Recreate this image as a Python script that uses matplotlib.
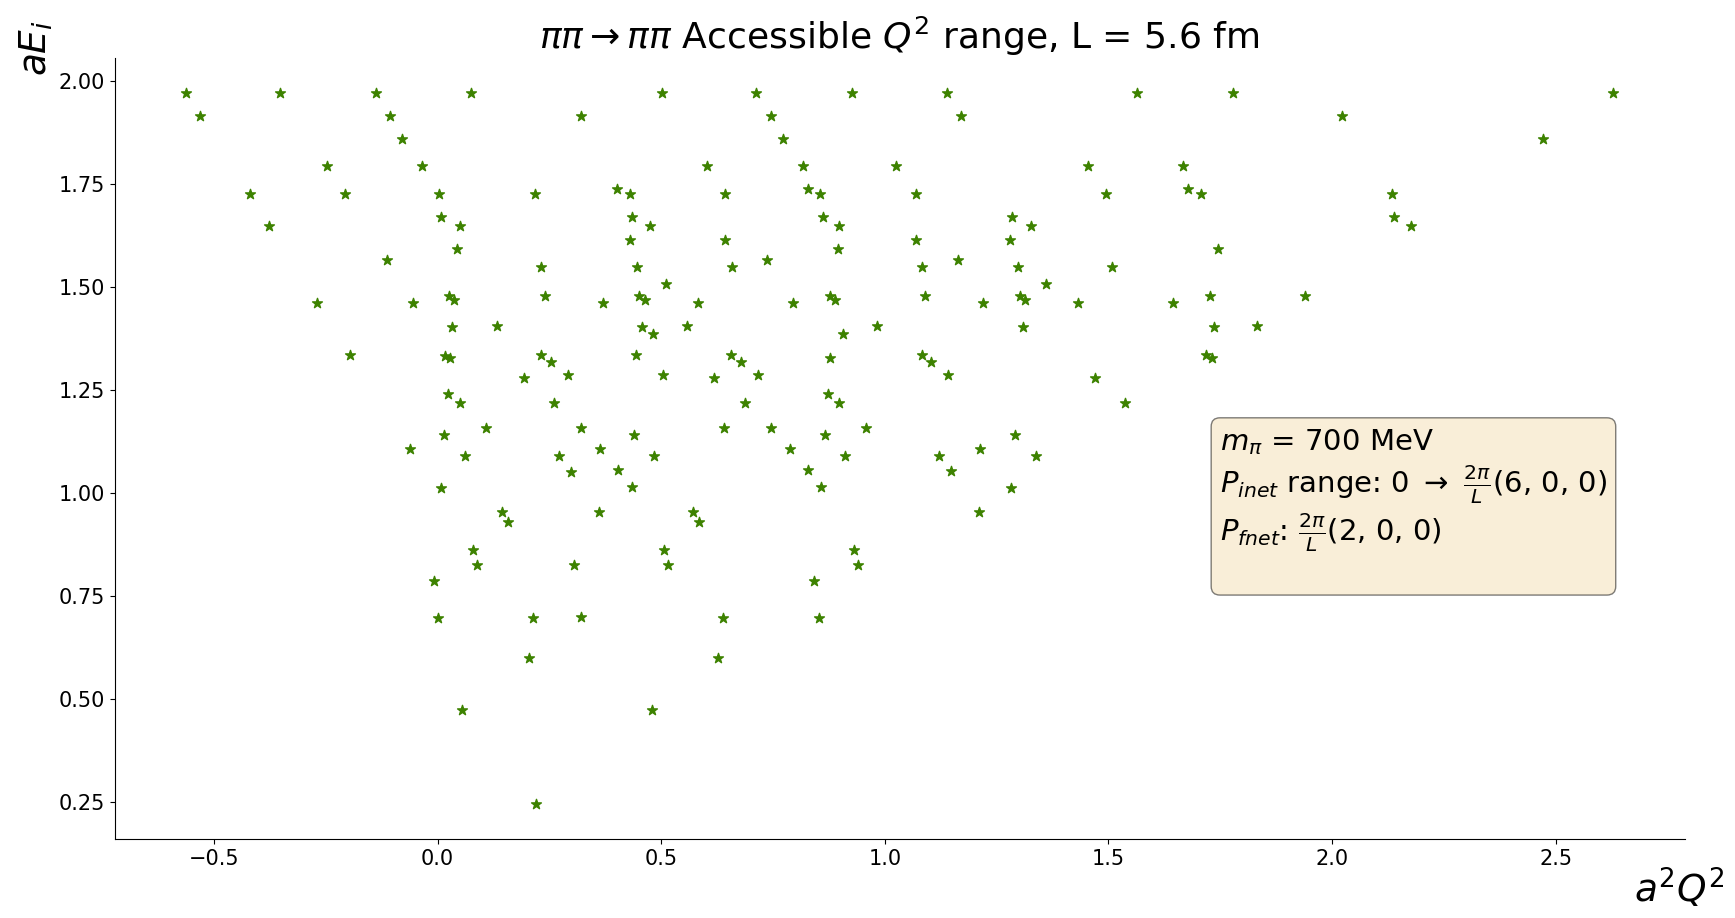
import matplotlib
matplotlib.use('Agg')
import matplotlib.pyplot as plt

# ------------------ Data ---------------------------------------------

q2 = [
    -0.563, -0.531, -0.352, -0.138, -0.107, -0.080, 0.074, -0.248, -0.036, -0.420,
    -0.208, 0.004, 0.008, 0.049, -0.378, 0.044, -0.114, -0.269, -0.055, 0.025,
    0.037, 0.031, 0.133, -0.195, 0.017, 0.028, 0.023, 0.049, 0.108, 0.015,
    -0.062, 0.061,
    0.501, 0.712, 0.926, 0.320, 0.746, 0.772, 0.602, 0.816, 1.025, 0.218,
    0.402, 0.431, 0.642, 0.829, 0.856, 0.435, 0.475, 0.861, 0.898, 0.431,
    0.642, 0.896, 0.737, 0.232, 0.446, 0.658, 0.510, 0.239, 0.369, 0.451,
    0.464, 0.583, 0.795, 0.877, 0.888, 0.458, 0.482, 0.558, 0.906, 0.983,
    0.232, 0.254, 0.444, 0.656, 0.678, 0.878, 0.192, 0.291, 0.503, 0.619,
    0.717, 0.260, 0.687, 0.873, 0.898, 0.320, 0.440, 0.640, 0.746, 0.866,
    0.957, 0.362, 0.788, 0.271, 0.483, 0.911,
    1.140, 1.563, 1.778, 1.170, 1.455, 1.666, 1.069, 1.494, 1.679, 1.707,
    1.285, 1.326, 1.069, 1.280, 1.746, 1.163, 1.082, 1.297, 1.509, 1.361,
    1.090, 1.219, 1.302, 1.314, 1.433, 1.645, 1.727, 1.309, 1.735, 1.833,
    1.082, 1.104, 1.719, 1.731, 1.141, 1.469, 1.537, 1.292, 1.212, 1.122,
    1.337,
    2.022, 2.629, 2.472, 2.133, 2.138, 2.176, 1.940,
    0.007, 0.145, 0.158, 0.079, 0.089, -0.008, 0.000, 0.055,
    0.299, 0.404, 0.434, 0.828, 0.858, 0.360, 0.572, 0.585, 0.506, 0.516,
    0.930, 0.941, 0.304, 0.842, 0.213, 0.320, 0.638, 0.852, 0.205, 0.627,
    0.480, 0.220,
    1.149, 1.283, 1.210,
]

energy = [
    1.971, 1.917, 1.971, 1.971, 1.917, 1.860, 1.971, 1.795, 1.795, 1.726,
    1.726, 1.726, 1.670, 1.649, 1.649, 1.593, 1.565, 1.462, 1.462, 1.479,
    1.470, 1.404, 1.407, 1.336, 1.334, 1.328, 1.241, 1.218, 1.157, 1.141,
    1.108, 1.090,
    1.971, 1.971, 1.971, 1.917, 1.917, 1.860, 1.795, 1.795, 1.795, 1.726,
    1.738, 1.726, 1.726, 1.738, 1.726, 1.670, 1.649, 1.670, 1.649, 1.616,
    1.616, 1.593, 1.565, 1.548, 1.548, 1.548, 1.508, 1.479, 1.462, 1.479,
    1.470, 1.462, 1.462, 1.479, 1.470, 1.404, 1.387, 1.407, 1.387, 1.407,
    1.336, 1.318, 1.336, 1.336, 1.318, 1.328, 1.279, 1.286, 1.287, 1.279,
    1.286, 1.218, 1.218, 1.241, 1.218, 1.157, 1.141, 1.157, 1.157, 1.141,
    1.157, 1.108, 1.108, 1.090, 1.090, 1.090,
    1.971, 1.971, 1.971, 1.917, 1.795, 1.795, 1.726, 1.726, 1.738, 1.726,
    1.670, 1.649, 1.616, 1.616, 1.593, 1.565, 1.548, 1.548, 1.548, 1.508,
    1.479, 1.462, 1.479, 1.470, 1.462, 1.462, 1.479, 1.404, 1.404, 1.407,
    1.336, 1.318, 1.336, 1.328, 1.286, 1.279, 1.218, 1.141, 1.108, 1.090,
    1.090,
    1.917, 1.971, 1.860, 1.726, 1.670, 1.649, 1.479,
    1.013, 0.955, 0.930, 0.863, 0.826, 0.786, 0.697, 0.473,
    1.052, 1.055, 1.014, 1.055, 1.014, 0.955, 0.955, 0.930, 0.863, 0.826,
    0.863, 0.826, 0.826, 0.786, 0.697, 0.700, 0.697, 0.697, 0.600, 0.600,
    0.473, 0.246,
    1.053, 1.013, 0.955,
]

title = r'$\pi\pi \rightarrow \pi\pi$ Accessible $Q^2$ range, L = 5.6 fm'
info = (r'$m_{\pi}$ = 700 MeV' + '\n'
        + r'$P_{inet}$ range: 0 $\rightarrow$ $\frac{2\pi}{L}$(6, 0, 0)' + '\n'
        + r'$P_{fnet}$: $\frac{2\pi}{L}$(2, 0, 0)' + '\n')

# ------------------ Plot --------------------

fig = plt.figure(figsize=(17.35, 9.18), dpi=100)
ax = fig.add_axes([0.066, 0.086, 0.905, 0.851])

ax.scatter(q2, energy, marker='*', s=55, color='#3d8200')

ax.spines['top'].set_visible(False)
ax.spines['right'].set_visible(False)
ax.tick_params(labelsize=15)

ax.set_title(title, fontsize=26)

fig.text(0.994, 0.008, r'$a^2Q^2$', fontsize=27, ha='right', va='bottom')
fig.text(0.010, 0.978, r'$aE_i$', fontsize=27, rotation=90, ha='left', va='top')

props = dict(boxstyle='round', facecolor='wheat', alpha=0.5)
ax.text(0.704, 0.527, info, transform=ax.transAxes, fontsize=21,
        va='top', ha='left', bbox=props)

fig.savefig('out.png')
